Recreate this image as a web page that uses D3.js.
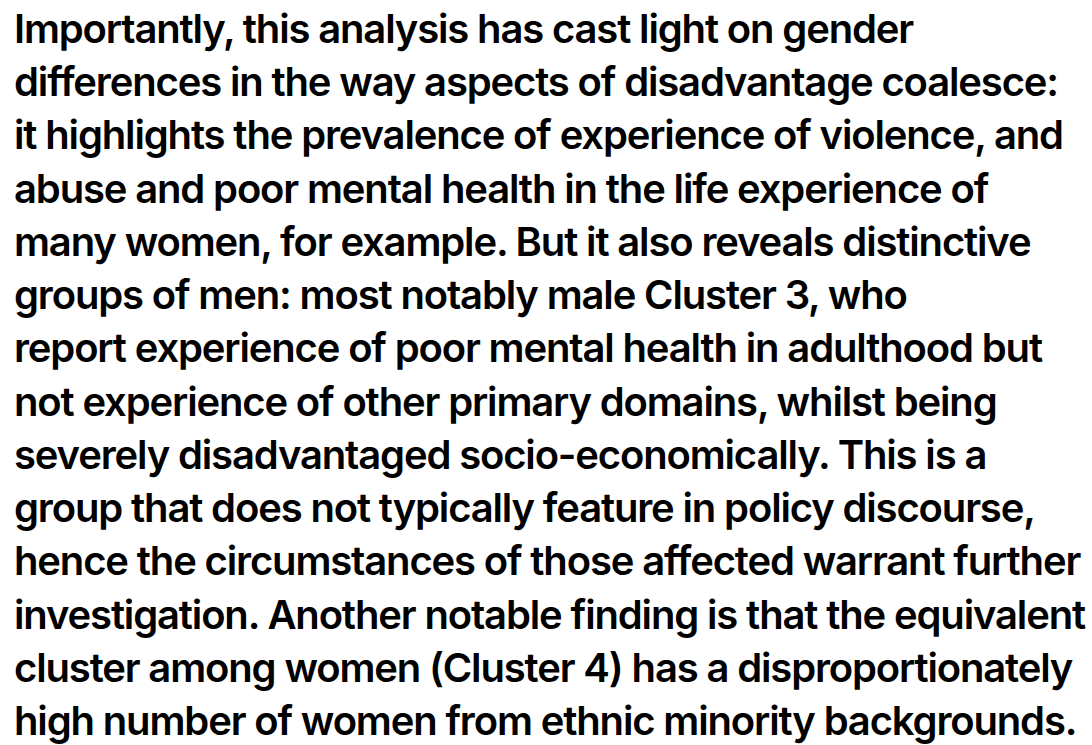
<!DOCTYPE html>
<html>
<head>
<meta charset="utf-8">
<script src="https://cdn.jsdelivr.net/npm/d3@7"></script>
<style>
  html, body { margin: 0; padding: 0; background: #fff; }
  svg { display: block; }
  .para text { font-family: Inter, "Noto Sans", sans-serif; font-weight: 600; fill: #000; }
</style>
</head>
<body>
<svg id="space"></svg>
<script>
// paragraph, one entry per printed line
var lines = [
    "Importantly, this analysis has cast light on gender",
    "differences in the way aspects of disadvantage coalesce:",
    "it highlights the prevalence of experience of violence, and",
    "abuse and poor mental health in the life experience of",
    "many women, for example. But it also reveals distinctive",
    "groups of men: most notably male Cluster 3, who",
    "report experience of poor mental health in adulthood but",
    "not experience of other primary domains, whilst being",
    "severely disadvantaged socio-economically. This is a",
    "group that does not typically feature in policy discourse,",
    "hence the circumstances of those affected warrant further",
    "investigation. Another notable finding is that the equivalent",
    "cluster among women (Cluster 4) has a disproportionately",
    "high number of women from ethnic minority backgrounds."
];

var width = 1092,
    height = 745;

var svg = d3.select("#space")
    .attr("width", width)
    .attr("height", height);

// baseline of each line
var y = d3.scaleLinear()
    .domain([0, lines.length - 1])
    .range([43, 735]);

var para = svg.append("g")
    .attr("class", "para");

para.selectAll("text")
    .data(lines)
    .enter().append("text")
    .attr("x", 14)
    .attr("y", function(d, i) { return y(i); })
    .attr("font-size", 40)
    .attr("letter-spacing", "-1.15px")
    .text(function(d) { return d; });
</script>
</body>
</html>
